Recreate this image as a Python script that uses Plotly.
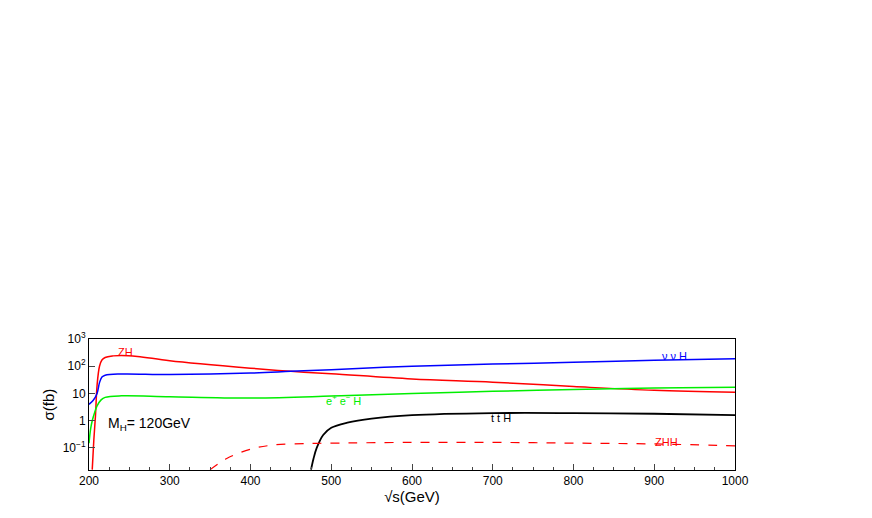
import math
import plotly.graph_objects as go

# data (sqrt(s) in GeV, sigma in fb)
zh_x = [204, 206, 208, 210, 213, 216, 220, 230, 240, 260, 300, 400, 450, 500, 600, 700, 800, 900, 1000]
zh_y = [0.016, 0.2, 1.5, 20, 100, 170, 210, 240, 250, 230, 160, 85, 65, 53, 34, 26, 18, 13, 11]
nnh_x = [200, 205, 210, 213, 216, 220, 240, 300, 400, 450, 500, 600, 700, 800, 900, 1000]
nnh_y = [4, 5.5, 10, 25, 40, 47, 52, 50, 56, 65, 75, 100, 120, 140, 165, 190]
eeh_x = [200, 202, 204, 207, 210, 215, 220, 240, 300, 400, 500, 600, 700, 800, 900, 1000]
eeh_y = [0.15, 0.5, 1.0, 2.0, 3.5, 5.8, 7.2, 8.2, 7.6, 6.8, 8.0, 10, 12, 14, 16, 17]
tth_x = [475, 478, 482, 490, 500, 520, 550, 600, 700, 800, 900, 1000]
tth_y = [0.016, 0.04, 0.1, 0.3, 0.55, 0.85, 1.2, 1.6, 1.9, 1.9, 1.8, 1.6]
zhh_x = [350, 370, 400, 430, 470, 500, 600, 700, 800, 900, 1000]
zhh_y = [0.016, 0.04, 0.09, 0.13, 0.145, 0.15, 0.16, 0.16, 0.15, 0.14, 0.12]

ytick_vals = [0.1, 1, 10, 100, 1000]
ytick_text = ["10<sup>−1</sup>", "1", "10", "10<sup>2</sup>", "10<sup>3</sup>"]

fig = go.Figure()
fig.add_trace(go.Scatter(x=zh_x, y=zh_y, mode="lines", line=dict(color="red", width=1.5, shape="spline")))
fig.add_trace(go.Scatter(x=nnh_x, y=nnh_y, mode="lines", line=dict(color="blue", width=1.5, shape="spline")))
fig.add_trace(go.Scatter(x=eeh_x, y=eeh_y, mode="lines", line=dict(color="#00ee00", width=1.5, shape="spline")))
fig.add_trace(go.Scatter(x=tth_x, y=tth_y, mode="lines", line=dict(color="black", width=1.8, shape="spline")))
fig.add_trace(go.Scatter(x=zhh_x, y=zhh_y, mode="lines", line=dict(color="red", width=1.2, dash="dash", shape="spline")))

labels = [(245, 320, "ZH", "red", 11), (925, 230, "ν ν H", "blue", 11),
          (515, 6.0, "e<sup>+</sup> e<sup>−</sup> H", "#00ee00", 11),
          (710, 1.25, "t t H", "black", 11), (915, 0.17, "ZHH", "red", 11),
          (275, 0.75, "M<sub>H</sub>= 120GeV", "black", 14)]
for x, y, t, c, s in labels:
    # annotations on a log axis take log10 positions
    fig.add_annotation(x=x, y=math.log10(y), text=t, showarrow=False, font=dict(color=c, size=s))

fig.update_layout(
    width=872, height=518, showlegend=False,
    paper_bgcolor="white", plot_bgcolor="white",
    margin=dict(l=81, r=145, t=331, b=56, autoexpand=False),
    font=dict(family="Liberation Sans", size=12, color="black"),
    xaxis=dict(range=[200, 1000], tickvals=list(range(200, 1001, 100)), ticks="inside", ticklen=6,
               minor=dict(ticks="inside", ticklen=3, dtick=25), showline=True, mirror=True,
               linecolor="black", showgrid=False, zeroline=False, automargin=False,
               title=dict(text="√s(GeV)", font=dict(size=15), standoff=2)),
    yaxis=dict(type="log", range=[-1.81, 3], tickvals=ytick_vals, ticktext=ytick_text, ticks="inside",
               ticklen=6, showline=True, mirror=True, linecolor="black", showgrid=False, automargin=False,
               title=dict(text="σ(fb)", font=dict(size=15), standoff=4)),
)
fig.write_html("out.html")
